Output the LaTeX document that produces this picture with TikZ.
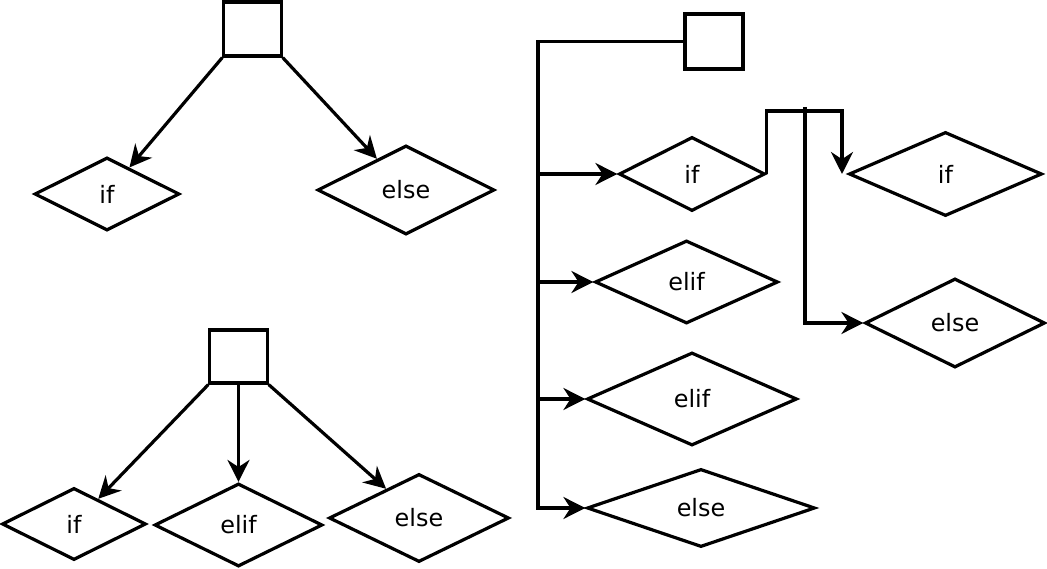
\documentclass[tikz,border=0pt]{standalone}
\usepackage{fontspec}
\setmainfont{DejaVu Sans}
\usetikzlibrary{arrows.meta,shapes.geometric}
\definecolor{cfInk}{HTML}{000000}
\tikzset{
  cf line/.style={draw=cfInk, line width=0.08cm},
  cf flow/.style={cf line, -{Stealth[length=0.55cm, width=0.55cm, inset=0.18cm]}},
  cf box/.style={cf line, rectangle, minimum width=1.43cm, minimum height=1.35cm, inner sep=0pt},
  cf cond/.style={cf line, diamond, inner sep=0pt, font=\fontsize{17}{20}\selectfont, text=cfInk},
}

\begin{document}
\begin{tikzpicture}[x=0.025cm, y=-0.025cm]
  \useasboundingbox (0,0) rectangle (1047,569);
  % if / else
  \node[cf box] (sqA) at (252.5,29) {};
  \node[cf cond, minimum width=3.625cm, minimum height=1.825cm] (ifA) at (107,194) {if};
  \node[cf cond, minimum width=4.425cm, minimum height=2.225cm] (elseA) at (406,190) {else};
  \draw[cf flow] (sqA.south west) -- (ifA);
  \draw[cf flow] (sqA.south east) -- (elseA);
  % if / elif / else
  \node[cf box, minimum height=1.325cm] (sqB) at (238.5,356.5) {};
  \node[cf cond, minimum width=3.6cm, minimum height=1.8cm] (ifB) at (74,524) {if};
  \node[cf cond, minimum width=4.2cm, minimum height=2.075cm] (elifB) at (238.5,525) {elif};
  \node[cf cond, minimum width=4.5cm, minimum height=2.2cm] (elseB) at (419,518) {else};
  \draw[cf flow] (sqB.south west) -- (ifB);
  \draw[cf flow] (sqB.south) -- (elifB.north);
  \draw[cf flow] (sqB.south east) -- (elseB);
  % chain with a nested branch
  \node[cf box, minimum width=1.45cm, minimum height=1.375cm] (sqC) at (714,41.5) {};
  \node[cf cond, minimum width=3.65cm, minimum height=1.85cm] (ifC) at (692,174) {if};
  \node[cf cond, minimum width=4.575cm, minimum height=2.075cm] (elifC) at (686.5,282) {elif};
  \node[cf cond, minimum width=5.25cm, minimum height=2.325cm] (elifD) at (692,399) {elif};
  \node[cf cond, minimum width=5.7cm, minimum height=1.95cm] (elseC) at (701,508) {else};
  \node[cf cond, minimum width=4.825cm, minimum height=2.1cm] (ifD) at (945.5,174) {if};
  \node[cf cond, minimum width=4.5cm, minimum height=2.225cm] (elseD) at (955,323) {else};
  \coordinate (trunk) at (538,41.5);
  \coordinate (ifC hook) at (842,111);
  \coordinate (elseD hook) at (805,107);
  \draw[cf flow] (sqC.west) -- (trunk) |- (elseC.west);
  \foreach \n in {ifC,elifC,elifD}
    \draw[cf flow] (trunk |- \n.west) -- (\n.west);
  \draw[cf flow] (ifC.east) |- (ifC hook) -- (ifC hook |- ifD.west);
  \draw[cf flow] (elseD hook) |- (elseD.west);
\end{tikzpicture}
\end{document}
